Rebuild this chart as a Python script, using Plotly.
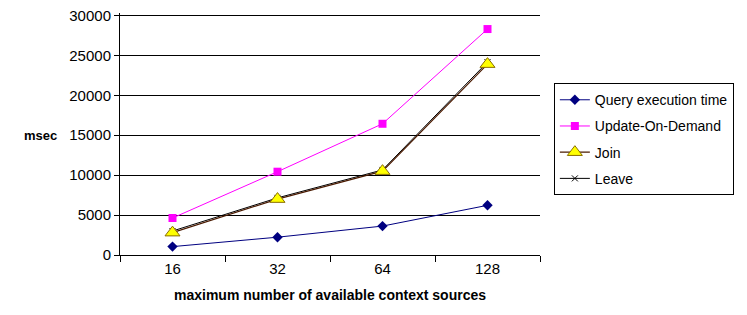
import plotly.graph_objects as go

categories = ["16", "32", "64", "128"]
query_time = [1050, 2230, 3620, 6220]
update_on_demand = [4630, 10430, 16430, 28290]
join = [2800, 7000, 10500, 23900]
leave = [3000, 7150, 10650, 24150]
y_ticks = [0, 5000, 10000, 15000, 20000, 25000, 30000]

FONT = "Liberation Sans, Arial, sans-serif"

fig = go.Figure()
fig.add_trace(go.Scatter(x=categories, y=query_time, name="Query execution time",
                         mode="lines+markers", legendgroup="a",
                         line=dict(color="#000080", width=1),
                         marker=dict(symbol="diamond", size=8, color="#000080")))
fig.add_trace(go.Scatter(x=categories, y=update_on_demand, name="Update-On-Demand",
                         mode="lines+markers", legendgroup="b",
                         line=dict(color="#FF00FF", width=1),
                         marker=dict(symbol="square", size=8, color="#FF00FF")))
fig.add_trace(go.Scatter(x=categories, y=leave, name="Leave",
                         mode="lines+markers", legendgroup="d", showlegend=False,
                         line=dict(color="#000000", width=1),
                         marker=dict(symbol="x-thin", size=6, line=dict(color="#000000", width=1))))
fig.add_trace(go.Scatter(x=categories, y=join, name="Join",
                         mode="lines+markers", legendgroup="c",
                         line=dict(color="#4a1a00", width=1.2),
                         marker=dict(symbol="triangle-up", size=13, color="#FFFF00",
                                     line=dict(color="#8a6d00", width=1))))
# legend entry for Leave in correct order
fig.add_trace(go.Scatter(x=[None], y=[None], name="Leave", mode="lines+markers",
                         legendgroup="d",
                         line=dict(color="#000000", width=1),
                         marker=dict(symbol="x-thin", size=6, line=dict(color="#000000", width=1))))

fig.update_layout(
    width=747, height=315,
    margin=dict(l=112, r=215, t=5, b=68),
    paper_bgcolor="white", plot_bgcolor="white",
    font=dict(family=FONT, size=14, color="#000000"),
    showlegend=True,
    legend=dict(x=1.033, y=0.71, xanchor="left", yanchor="top",
                bordercolor="#000000", borderwidth=1, bgcolor="white",
                traceorder="grouped", tracegroupgap=5,
                font=dict(family=FONT, size=14), itemwidth=30),
    xaxis=dict(type="category", categoryorder="array", categoryarray=categories,
               range=[-0.5, 3.5], showgrid=False, showline=True, linecolor="#000000",
               linewidth=1, ticks="outside", tickson="boundaries", ticklen=6,
               tickcolor="#000000", tickfont=dict(size=15),
               title=dict(text="<b>maximum number of available context sources</b>",
                          font=dict(size=14), standoff=14)),
    yaxis=dict(range=[0, 30300], tickvals=y_ticks, ticktext=[str(v) for v in y_ticks],
               ticklabeloverflow="allow", automargin=False,
               showgrid=True, gridcolor="#000000",
               gridwidth=1, showline=True, linecolor="#000000", linewidth=1,
               ticks="outside", ticklen=5, tickcolor="#000000", zeroline=False,
               tickfont=dict(size=15)),
    annotations=[dict(text="<b>msec</b>", xref="paper", yref="y", x=-0.145, y=15000,
                      xanchor="right", yanchor="middle", showarrow=False,
                      font=dict(size=13))],
)

fig.write_html("out.html")
